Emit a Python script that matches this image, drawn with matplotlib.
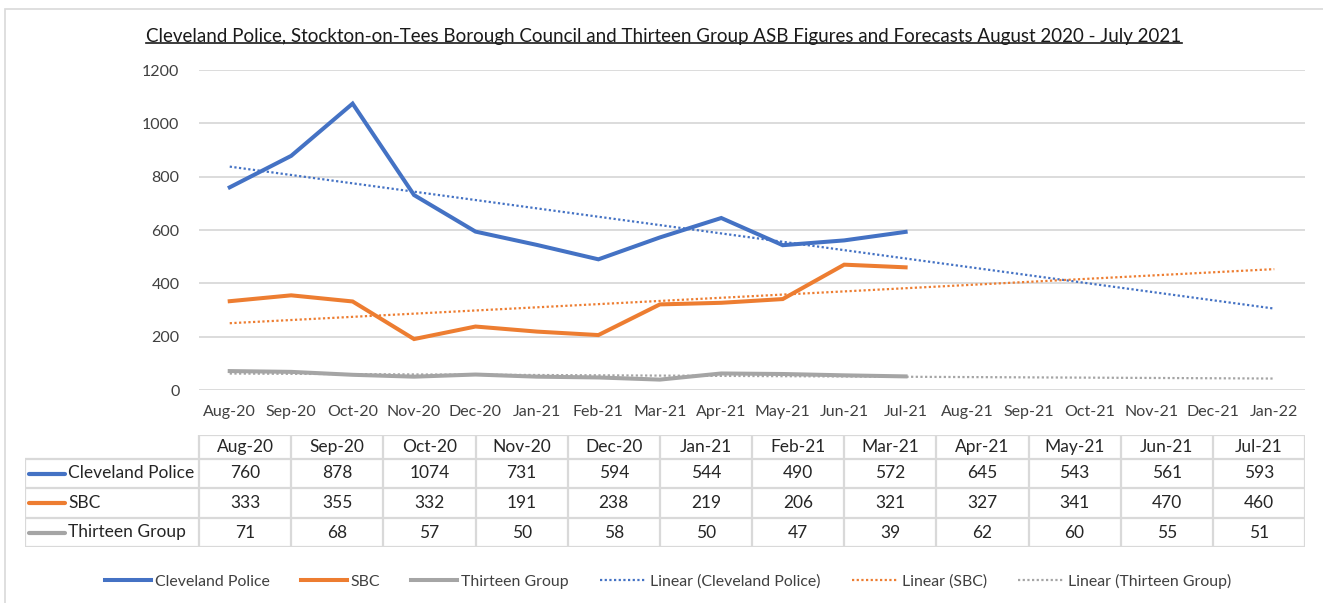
import numpy as np
import matplotlib
matplotlib.use("Agg")
import matplotlib.pyplot as plt
from matplotlib.lines import Line2D
from matplotlib.patches import Rectangle

plt.rcParams["font.family"] = ["Lato", "DejaVu Sans"]

# data
axis_months = ["Aug-20", "Sep-20", "Oct-20", "Nov-20", "Dec-20", "Jan-21",
               "Feb-21", "Mar-21", "Apr-21", "May-21", "Jun-21", "Jul-21",
               "Aug-21", "Sep-21", "Oct-21", "Nov-21", "Dec-21", "Jan-22"]
table_months = axis_months[:12]
series_names = ["Cleveland Police", "SBC", "Thirteen Group"]
cleveland = [760, 878, 1074, 731, 594, 544, 490, 572, 645, 543, 561, 593]
sbc = [333, 355, 332, 191, 238, 219, 206, 321, 327, 341, 470, 460]
thirteen = [71, 68, 57, 50, 58, 50, 47, 39, 62, 60, 55, 51]
forecast_periods = 6

series = [cleveland, sbc, thirteen]
colors = ["#4472C4", "#ED7D31", "#A5A5A5"]
text_col = "#404040"
grid_col = "#D9D9D9"

W, H = 1323, 603
fig = plt.figure(figsize=(W / 100, H / 100), dpi=100)


def box(l, t, r, b):
    return [l / W, 1 - b / H, (r - l) / W, (b - t) / H]


# chart border
fig.patches.append(Rectangle((5 / W, -0.1), 1.2, 1 - 9 / H + 0.1, transform=fig.transFigure,
                             fill=False, edgecolor=grid_col, lw=1.2))

# line chart
ax = fig.add_axes(box(199, 70, 1305, 390))
x = np.arange(len(table_months))
xt = np.arange(len(table_months) + forecast_periods)
handles = []
trend_handles = []
for vals, c, name in zip(series, colors, series_names):
    h, = ax.plot(x, vals, color=c, lw=2.9, solid_joinstyle="miter", zorder=3, label=name)
    handles.append(h)
    slope, icpt = np.polyfit(x, vals, 1)
    th, = ax.plot(xt, slope * xt + icpt, color=c, lw=1.6, ls=(0, (1, 1.1)), zorder=2,
                  label="Linear (%s)" % name)
    trend_handles.append(th)

ax.set_xlim(-0.5, len(axis_months) - 0.5)
ax.set_ylim(0, 1200)
ax.set_yticks(range(0, 1201, 200))
ax.set_xticks(range(len(axis_months)))
ax.set_xticklabels(axis_months)
ax.grid(axis="y", color=grid_col, lw=1.3)
ax.set_axisbelow(True)
for s in ax.spines.values():
    s.set_visible(False)
ax.tick_params(length=0, labelsize=11.5, colors=text_col)
ax.tick_params(axis="y", pad=14)
ax.tick_params(axis="x", pad=11)

# title with underline
title = fig.text(664 / W, 1 - 42 / H,
                 "Cleveland Police, Stockton-on-Tees Borough Council and Thirteen Group "
                 "ASB Figures and Forecasts August 2020 - July 2021",
                 ha="center", va="baseline", fontsize=13.5, color="#1a1a1a")

# data table (data coords = pixel positions of the table block)
tax = fig.add_axes(box(25, 435, 1305, 547))
tax.set_xlim(25, 1305)
tax.set_ylim(547, 435)
tax.axis("off")
col_edges = np.linspace(199, 1305, len(table_months) + 1)
row_edges = [435, 459, 488, 518, 547]
lw_t = 1.6
tax.hlines(row_edges[0], 199, 1305, color=grid_col, lw=lw_t)
tax.hlines(row_edges[1:], 25, 1305, color=grid_col, lw=lw_t)
tax.vlines(col_edges, 435, 547, color=grid_col, lw=lw_t)
tax.vlines(25, 459, 547, color=grid_col, lw=lw_t)
centers = (col_edges[:-1] + col_edges[1:]) / 2
for cx, m in zip(centers, table_months):
    tax.text(cx, (row_edges[0] + row_edges[1]) / 2, m, ha="center", va="center",
             fontsize=12.5, color="#262626")
for r, (vals, c, name) in enumerate(zip(series, colors, series_names)):
    cy = (row_edges[r + 1] + row_edges[r + 2]) / 2
    tax.plot([29, 65], [cy, cy], color=c, lw=3, solid_capstyle="round")
    tax.text(68, cy, name, ha="left", va="center", fontsize=12.5, color="#262626")
    for cx, v in zip(centers, vals):
        tax.text(cx, cy, str(v), ha="center", va="center", fontsize=12.5, color="#262626")

# legend
fs = 11.4
fs_px = fs * 100 / 72
fig.legend(handles + trend_handles, [h.get_label() for h in handles + trend_handles],
           loc="center", bbox_to_anchor=(668 / W, 1 - 581 / H), ncol=6, frameon=False,
           fontsize=fs, handlelength=46 / fs_px, handletextpad=4 / fs_px,
           columnspacing=31 / fs_px, labelcolor=text_col)

fig.canvas.draw()
bb = title.get_window_extent()
uy = bb.y0 + 2
fig.lines.append(Line2D([bb.x0 / W, bb.x1 / W], [uy / H, uy / H], transform=fig.transFigure,
                        color="#1a1a1a", lw=1.2))

fig.savefig("out.png", dpi=100)
